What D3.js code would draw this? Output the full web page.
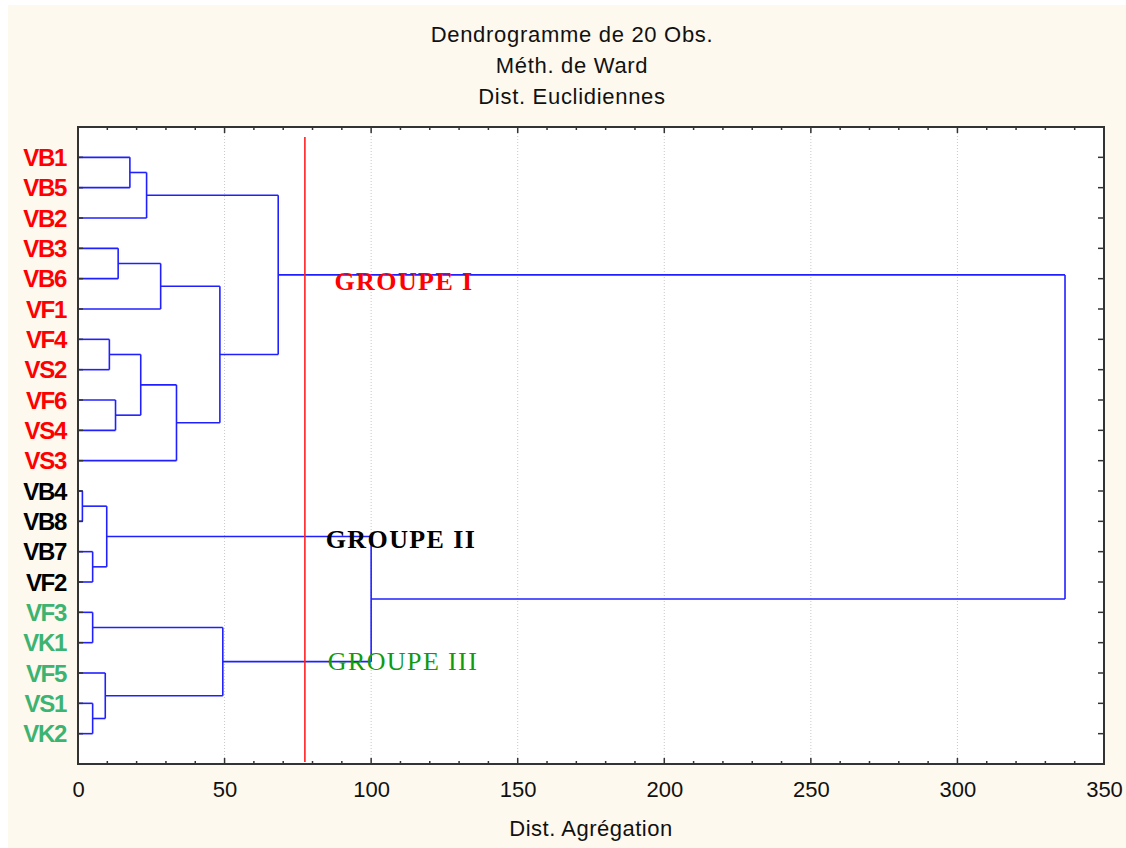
<!DOCTYPE html>
<html>
<head>
<meta charset="utf-8">
<script src="https://cdn.jsdelivr.net/npm/d3@7"></script>
<style>
  body { margin: 0; background: #fff; }
  text { font-family: "Liberation Sans", Arial, sans-serif; }
</style>
</head>
<body>
<svg id="chart" width="1126" height="848"></svg>
<script>
// Leaves, top to bottom
var leaves = ["VB1","VB5","VB2","VB3","VB6","VF1","VF4","VS2","VF6","VS4","VS3",
              "VB4","VB8","VB7","VF2","VF3","VK1","VF5","VS1","VK2"];
var leafGroup = ["I","I","I","I","I","I","I","I","I","I","I",
                 "II","II","II","II","III","III","III","III","III"];

// Ward merges: [child a, child b, height]; index < 20 = leaf, >= 20 = earlier merge (20 + k)
var merges = [
  [0, 1, 17.7],
  [20, 2, 23.4],
  [3, 4, 13.7],
  [22, 5, 28.2],
  [6, 7, 10.7],
  [8, 9, 12.8],
  [24, 25, 21.4],
  [26, 10, 33.6],
  [23, 27, 48.4],
  [21, 28, 68.3],
  [11, 12, 1.5],
  [13, 14, 5.0],
  [30, 31, 9.8],
  [15, 16, 5.0],
  [18, 19, 5.0],
  [17, 34, 9.3],
  [33, 35, 49.4],
  [32, 36, 100],
  [29, 37, 336.7]
];

var cutHeight = 77.4;
var xTicks = [0, 50, 100, 150, 200, 250, 300, 350];
var groupNames = ["GROUPE I", "GROUPE II", "GROUPE III"];
var groupLabelAt = [[87.5, 290], [84.5, 548], [85.2, 670]]; // [dist, y px]
var titleLines = ["Dendrogramme de 20 Obs.", "Méth. de Ward", "Dist. Euclidiennes"];

var leafColor = {"I": "#ff0000", "II": "#000000", "III": "#3cb371"};
var groupColor = ["#ff0000", "#000000", "#109a10"];

var margin = {left: 78, top: 127, right: 22, bottom: 84};
var W = 1126, H = 848;
var width = W - margin.left - margin.right;
var height = H - margin.top - margin.bottom;

var svg = d3.select("svg#chart");
svg.append("rect").attr("x", 8).attr("y", 5).attr("width", W - 8).attr("height", H - 5).attr("fill", "#fef9ee");

var g = svg.append("g").attr("transform", "translate(" + margin.left + "," + margin.top + ")");
g.append("rect").attr("width", width).attr("height", height).attr("fill", "#fff");

var x = d3.scaleLinear().domain([0, 350]).range([0, width]);
var y = d3.scaleLinear().domain([0, leaves.length + 1]).range([0, height]);

// grid
g.append("g").selectAll("line").data(xTicks.slice(1, -1)).enter().append("line")
  .attr("x1", d => x(d)).attr("x2", d => x(d)).attr("y1", 0).attr("y2", height)
  .attr("stroke", "#c8c8c8").attr("stroke-dasharray", "1,2");

// node positions
var pos = leaves.map((d, i) => ({x: 0, y: y(i + 1)}));
var segs = [];
merges.forEach(function(m) {
  var a = pos[m[0]], b = pos[m[1]], h = m[2];
  segs.push([a.x, a.y, h, a.y]);
  segs.push([b.x, b.y, h, b.y]);
  segs.push([h, a.y, h, b.y]);
  pos.push({x: h, y: (a.y + b.y) / 2});
});

g.append("g").selectAll("line").data(segs).enter().append("line")
  .attr("x1", d => x(d[0])).attr("x2", d => x(d[2]))
  .attr("y1", d => d[1]).attr("y2", d => d[3])
  .attr("stroke", "#2020ff").attr("stroke-width", 1.6);

// cut line
g.append("line").attr("x1", x(cutHeight)).attr("x2", x(cutHeight))
  .attr("y1", 10).attr("y2", height - 2)
  .attr("stroke", "#ff2020").attr("stroke-width", 1.6);

// axes
var minor = d3.range(0, 351, 10);
var xBottom = d3.axisBottom(x).tickValues(xTicks).tickSize(0).tickPadding(17);
var ax = g.append("g").attr("transform", "translate(0," + height + ")").call(xBottom);
ax.select(".domain").remove();
ax.selectAll("text").style("font-size", "22px").attr("fill", "#111").style("font-family", "Liberation Sans, Arial");

var tickG = g.append("g").attr("stroke", "#333").attr("stroke-width", 1.5);
minor.forEach(function(v) {
  var len = v % 50 === 0 ? 6 : 3;
  tickG.append("line").attr("x1", x(v)).attr("x2", x(v)).attr("y1", height).attr("y2", height - len);
  tickG.append("line").attr("x1", x(v)).attr("x2", x(v)).attr("y1", 0).attr("y2", len);
});
leaves.forEach(function(d, i) {
  tickG.append("line").attr("x1", 0).attr("x2", 5).attr("y1", y(i + 1)).attr("y2", y(i + 1));
  tickG.append("line").attr("x1", width).attr("x2", width - 6).attr("y1", y(i + 1)).attr("y2", y(i + 1));
});
g.append("rect").attr("width", width).attr("height", height)
  .attr("fill", "none").attr("stroke", "#333").attr("stroke-width", 2);

// leaf labels
g.append("g").selectAll("text").data(leaves).enter().append("text")
  .attr("x", -12).attr("y", (d, i) => y(i + 1)).attr("dy", "0.36em")
  .attr("text-anchor", "end").style("font-size", "24px").style("font-weight", "bold")
  .style("letter-spacing", "-1.3px")
  .attr("fill", (d, i) => leafColor[leafGroup[i]]).text(d => d);

// group labels
svg.append("g").selectAll("text").data(groupNames).enter().append("text")
  .attr("x", (d, i) => margin.left + x(groupLabelAt[i][0]))
  .attr("y", (d, i) => groupLabelAt[i][1])
  .style("font-family", "Liberation Serif, Times New Roman, serif")
  .style("font-size", "26px").style("letter-spacing", "1.4px")
  .style("font-weight", (d, i) => i < 2 ? "bold" : "normal")
  .attr("fill", (d, i) => groupColor[i]).text(d => d);

// titles
svg.append("g").selectAll("text").data(titleLines).enter().append("text")
  .attr("x", 572).attr("y", (d, i) => 42 + i * 31).attr("text-anchor", "middle")
  .style("font-size", "22px").style("letter-spacing", "0.7px").attr("fill", "#111").text(d => d);

svg.append("text").attr("x", 591).attr("y", 836).attr("text-anchor", "middle")
  .style("font-size", "22px").style("letter-spacing", "0.5px").attr("fill", "#111").text("Dist. Agrégation");
</script>
</body>
</html>
